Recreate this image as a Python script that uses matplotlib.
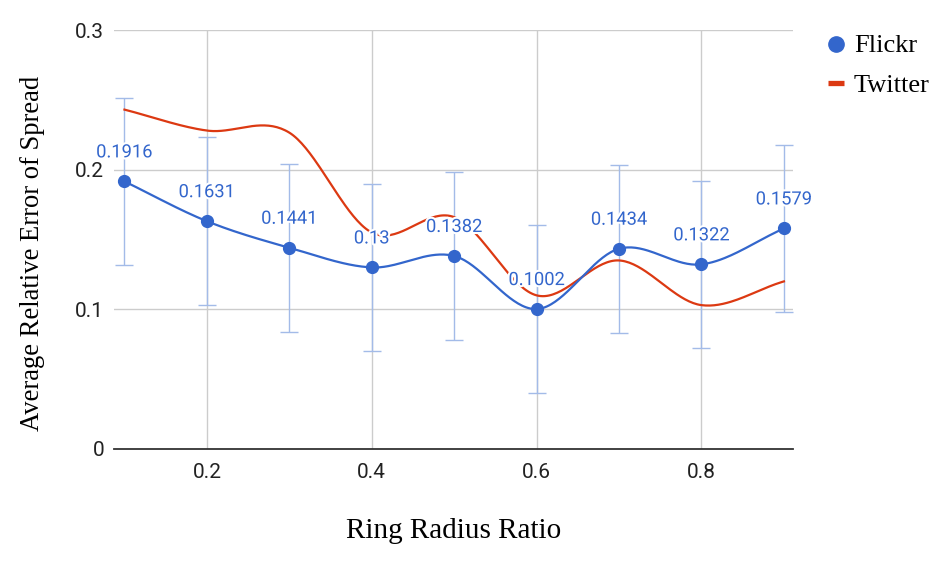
import numpy as np
import matplotlib
matplotlib.use("Agg")
import matplotlib.pyplot as plt
import matplotlib.patheffects as pe
from matplotlib.lines import Line2D

# ---- data ----
x_vals = [0.1, 0.2, 0.3, 0.4, 0.5, 0.6, 0.7, 0.8, 0.9]
flickr = [0.1916, 0.1631, 0.1441, 0.13, 0.1382, 0.1002, 0.1434, 0.1322, 0.1579]
flickr_err = [0.06, 0.06, 0.06, 0.06, 0.06, 0.06, 0.06, 0.06, 0.06]
twitter = [0.243, 0.228, 0.2265, 0.155, 0.166, 0.110, 0.135, 0.103, 0.120]
x_ticks = [0.2, 0.4, 0.6, 0.8]
y_ticks = [0, 0.1, 0.2, 0.3]
y_tick_labels = ["0", "0.1", "0.2", "0.3"]
series_names = ["Flickr", "Twitter"]

BLUE = "#3366cc"
RED = "#dc3912"


def smooth(xs, ys, n=40):
    """Cardinal (Catmull-Rom) curve through the points, for drawing only."""
    xs = np.asarray(xs, float)
    ys = np.asarray(ys, float)
    m = np.zeros_like(ys)
    m[1:-1] = (ys[2:] - ys[:-2]) / (xs[2:] - xs[:-2])
    m[0] = (ys[1] - ys[0]) / (xs[1] - xs[0])
    m[-1] = (ys[-1] - ys[-2]) / (xs[-1] - xs[-2])
    outx, outy = [], []
    for i in range(len(xs) - 1):
        h = xs[i + 1] - xs[i]
        t = np.linspace(0, 1, n, endpoint=(i == len(xs) - 2))
        h00 = 2 * t**3 - 3 * t**2 + 1
        h10 = t**3 - 2 * t**2 + t
        h01 = -2 * t**3 + 3 * t**2
        h11 = t**3 - t**2
        outx.append(xs[i] + t * h)
        outy.append(h00 * ys[i] + h10 * h * m[i] + h01 * ys[i + 1] + h11 * h * m[i + 1])
    return np.concatenate(outx), np.concatenate(outy)


W, H = 952, 562
fig = plt.figure(figsize=(W / 100, H / 100), dpi=100)
ax = fig.add_axes([114 / W, 1 - 449 / H, (793 - 114) / W, (449 - 30) / H])

ax.set_xlim(0.0873, 0.911)
ax.set_ylim(0, 0.3)

# grid
for yv in [0.1, 0.2, 0.3]:
    ax.axhline(yv, color="#cccccc", lw=1.0, zorder=0)
for xv in x_ticks:
    ax.axvline(xv, color="#cccccc", lw=1.0, zorder=0)

for s in ["top", "right", "left"]:
    ax.spines[s].set_visible(False)
ax.spines["bottom"].set_color("#333333")
ax.spines["bottom"].set_linewidth(1.3)

# error bars
ax.errorbar(x_vals, flickr, yerr=flickr_err, fmt="none", ecolor="#a3bbe8",
            elinewidth=1.0, capsize=6.5, capthick=1.0, zorder=2)

# twitter line
tx, ty = smooth(x_vals, twitter)
ax.plot(tx, ty, color=RED, lw=1.6, zorder=3)

# flickr line
fx, fy = smooth(x_vals, flickr)
ax.plot(fx, fy, color=BLUE, lw=1.6, zorder=4)
ax.plot(x_vals, flickr, "o", color=BLUE, ms=8.5, zorder=5)

for xv, yv in zip(x_vals, flickr):
    ax.annotate(f"{yv:g}", (xv, yv), xytext=(0, 29), textcoords="offset pixels",
                ha="center", va="center", color=BLUE, fontsize=13.2,
                family="Roboto", zorder=6,
                path_effects=[pe.withStroke(linewidth=3, foreground="white")])

ax.set_xticks(x_ticks)
ax.set_xticklabels([f"{v:g}" for v in x_ticks], family="Roboto", fontsize=15, color="#222222")
ax.set_yticks(y_ticks)
ax.set_yticklabels(y_tick_labels, family="Roboto", fontsize=15, color="#222222")
ax.tick_params(axis="both", length=0)
ax.tick_params(axis="x", pad=10)
ax.tick_params(axis="y", pad=7)

fig.text(454 / W, 1 - 531 / H, "Ring Radius Ratio", ha="center", va="center",
         family="Liberation Serif", fontsize=21, color="black")
fig.text(33 / W, 1 - 253 / H, "Average Relative Error of Spread", ha="center",
         va="center", rotation=90, family="Liberation Serif", fontsize=19.2, color="black")

# legend (drawn manually to match placement)
fig.add_artist(Line2D([836 / W], [1 - 44 / H], marker="o", linestyle="none",
                      color=BLUE, ms=11, transform=fig.transFigure))
fig.add_artist(Line2D([828 / W, 844 / W], [1 - 83 / H, 1 - 83 / H], color=RED,
                      lw=3.8, solid_capstyle="butt", transform=fig.transFigure))
fig.text(854 / W, 1 - 52 / H, series_names[0], ha="left", va="baseline",
         family="Liberation Serif", fontsize=19, color="black")
fig.text(854 / W, 1 - 92 / H, series_names[1], ha="left", va="baseline",
         family="Liberation Serif", fontsize=19, color="black")

fig.savefig("out.png", dpi=100)
